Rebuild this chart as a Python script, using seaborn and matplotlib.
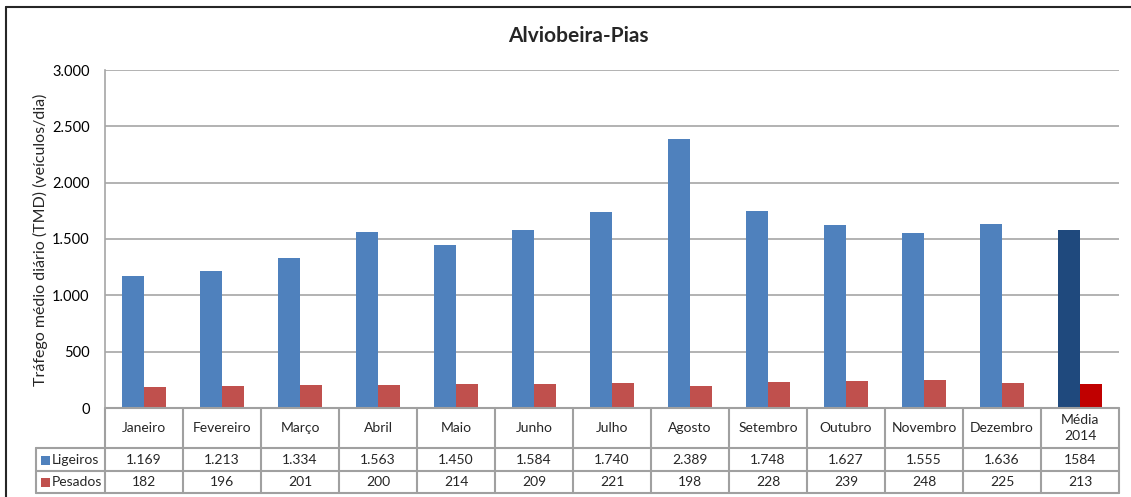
import matplotlib
matplotlib.use("Agg")
import matplotlib.pyplot as plt
import matplotlib.transforms as mtransforms
from matplotlib.patches import Rectangle
from matplotlib.lines import Line2D
import seaborn as sns
import pandas as pd

# ---- data ----
title = "Alviobeira-Pias"
ylabel = "Tráfego médio diário (TMD) (veículos/dia)"
categories = ["Janeiro", "Fevereiro", "Março", "Abril", "Maio", "Junho", "Julho",
              "Agosto", "Setembro", "Outubro", "Novembro", "Dezembro", "Média\n2014"]
ligeiros = [1169, 1213, 1334, 1563, 1450, 1584, 1740, 2389, 1748, 1627, 1555, 1636, 1584]
pesados = [182, 196, 201, 200, 214, 209, 221, 198, 228, 239, 248, 225, 213]
series = ["Ligeiros", "Pesados"]
yticks = [0, 500, 1000, 1500, 2000, 2500, 3000]

# ---- style ----
sns.set_theme(style="white")
plt.rcParams["font.family"] = ["Lato", "DejaVu Sans"]

W, H = 1131, 497
fig = plt.figure(figsize=(W / 100, H / 100), dpi=100)

def fy(py):
    return 1 - py / H

def fx(px):
    return px / W

ax_left, ax_right, ax_top, ax_bot = 105, 1119, 70, 408
ax = fig.add_axes([fx(ax_left), fy(ax_bot), fx(ax_right - ax_left), (ax_bot - ax_top) / H])

df = pd.DataFrame({
    "cat": categories * 2,
    "val": ligeiros + pesados,
    "serie": [series[0]] * len(categories) + [series[1]] * len(categories),
})
blue, red = "#4F81BD", "#C0504D"
sns.barplot(data=df, x="cat", y="val", hue="serie", palette=[blue, red],
            width=0.565, gap=0, saturation=1, ax=ax, legend=False, errorbar=None)

# highlight the annual average
ax.containers[0][-1].set_facecolor("#1F497D")
ax.containers[1][-1].set_facecolor("#C00000")
for c in ax.containers:
    for p in c:
        p.set_edgecolor("none")

ax.set_xlim(-0.5, len(categories) - 0.5)
ax.set_ylim(0, 3000)
ax.set_yticks(yticks)
ax.set_yticklabels([f"{v:,}".replace(",", ".") for v in yticks], fontsize=10.5, color="#000000")
ax.set_xticks([])
ax.set_xlabel("")
ax.set_ylabel("")
ax.tick_params(axis="y", length=0, pad=11)
ax.yaxis.grid(True, color="#A6A6A6", linewidth=1.2)
ax.set_axisbelow(True)
for s in ["top", "right", "bottom"]:
    ax.spines[s].set_visible(False)
ax.spines["left"].set_color("#A6A6A6")
ax.spines["left"].set_linewidth(1.2)

# ---- title & y label ----
fig.text(fx(578), fy(36), title, ha="center", va="center", fontsize=15, fontweight="bold")
fig.text(fx(40), fy(240), ylabel, ha="center", va="center", rotation=90, fontsize=11.5)

# ---- data table ----
gc = "#A0A0A0"
lw = 1.5
rows_y = [408, 448, 471, 493]
bt = mtransforms.blended_transform_factory(ax.transData, fig.transFigure)
n = len(categories)
for py in rows_y:
    ax.add_line(Line2D([-0.5, n - 0.5], [fy(py), fy(py)], transform=bt, color=gc,
                       lw=lw, clip_on=False))
for i in range(n + 1):
    ax.add_line(Line2D([i - 0.5, i - 0.5], [fy(408), fy(493)], transform=bt, color=gc,
                       lw=lw, clip_on=False))
lab_left = 36
for py in rows_y[1:]:
    fig.add_artist(Line2D([fx(lab_left), fx(ax_left)], [fy(py), fy(py)], color=gc, lw=lw))
fig.add_artist(Line2D([fx(lab_left), fx(lab_left)], [fy(448), fy(493)], color=gc, lw=lw))

for i, c in enumerate(categories):
    ax.text(i, fy(428), c, transform=bt, ha="center", va="center", fontsize=10,
            linespacing=1.5)

def fmt(v, last):
    return str(v) if last else f"{v:,}".replace(",", ".")

for i in range(n):
    last = i == n - 1
    ax.text(i, fy(460), fmt(ligeiros[i], last), transform=bt, ha="center", va="center", fontsize=10)
    ax.text(i, fy(482), fmt(pesados[i], last), transform=bt, ha="center", va="center", fontsize=10)

for (py, name, col) in [(460, series[0], blue), (482, series[1], red)]:
    fig.add_artist(Rectangle((fx(41), fy(py + 4.5)), fx(9), 9 / H, facecolor=col,
                             edgecolor="none", transform=fig.transFigure))
    fig.text(fx(52), fy(py), name, ha="left", va="center", fontsize=10)

# outer chart border
fig.add_artist(Line2D([fx(6), fx(6)], [fy(7), 0], color="#262626", lw=1.5))
fig.add_artist(Line2D([fx(6), 1], [fy(7), fy(7)], color="#262626", lw=1.5))

fig.savefig("out.png", dpi=100)
